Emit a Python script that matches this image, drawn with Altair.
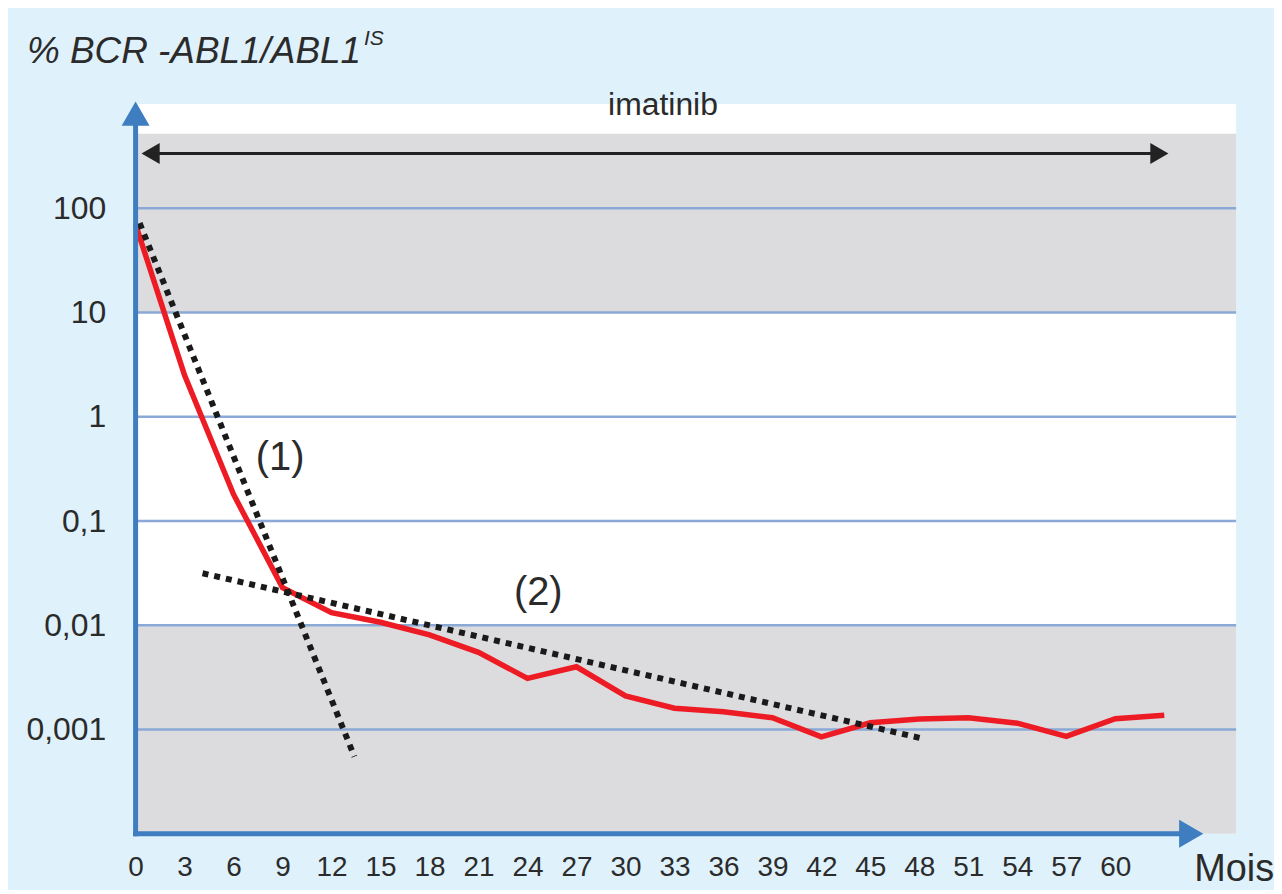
import altair as alt
import pandas as pd

# ---------------- data ----------------
months = [0, 3, 6, 9, 12, 15, 18, 21, 24, 27, 30, 33, 36, 39, 42, 45, 48, 51, 54, 57, 60, 63]
bcr_abl1 = [70, 2.5, 0.18, 0.023, 0.0132, 0.0107, 0.0081, 0.0055, 0.0031, 0.0040,
            0.0021, 0.0016, 0.00148, 0.0013, 0.00085, 0.00116, 0.00126, 0.0013,
            0.00115, 0.00086, 0.00127, 0.00137]

slope1_months = [0.25, 13.4]
slope1_values = [72, 0.00055]
slope2_months = [4.1, 48.2]
slope2_values = [0.0316, 0.00082]

x_ticks = [0, 3, 6, 9, 12, 15, 18, 21, 24, 27, 30, 33, 36, 39, 42, 45, 48, 51, 54, 57, 60]
y_ticks = [0.001, 0.01, 0.1, 1, 10, 100]

band_from = [10, 0.0001]
band_to = [520, 0.01]

treatment = ["imatinib"]
treatment_start = [0.92]
treatment_end = [62.7]
treatment_level = [336]
treatment_label_month = [32.3]
treatment_label_value = [792]

phase_labels = ["(1)", "(2)"]
phase_months = [8.85, 24.66]
phase_values = [0.309, 0.0158]

X_MIN, X_MAX = 0, 67.4
Y_MIN, Y_MAX = 0.0001, 1000
X_ARROW = 64.65
Y_ARROW = 810

# ---------------- styles ----------------
FONT = "Liberation Sans"
TXT = "#2b2b2b"
BLUE = "#3f7dc1"
GRID = "#8aa9d6"
GRAY = "#dcdcdf"
RED = "#ed1c24"
BG = "#dff1fb"

xs = alt.Scale(domain=[X_MIN, X_MAX], nice=False, zero=False)
ys = alt.Scale(type="log", domain=[Y_MIN, Y_MAX], nice=False)

x_axis = alt.Axis(values=x_ticks, title=None, domain=False, ticks=False, tickSize=0,
                  grid=False, labelFontSize=28, labelColor=TXT, labelFont=FONT,
                  labelPadding=20, labelFlush=False, labelOverlap=False)
y_axis = alt.Axis(values=y_ticks, title=None, domain=False, ticks=False, tickSize=0,
                  grid=False, labelFontSize=32, labelColor=TXT, labelFont=FONT,
                  labelPadding=30, labelOverlap=False,
                  labelExpr="replace(toString(datum.value), '.', ',')")

# ---------------- tables ----------------
bands = pd.DataFrame({"lo": band_from, "hi": band_to, "x0": [X_MIN] * 2, "x1": [X_MAX] * 2})
grid = pd.DataFrame({"v": y_ticks})
line = pd.DataFrame({"m": months, "v": bcr_abl1})
slopes = pd.DataFrame({
    "m": slope1_months + slope2_months,
    "v": slope1_values + slope2_values,
    "g": ["1", "1", "2", "2"],
})
axes_lines = pd.DataFrame({"x": [0, 0], "x2": [0, X_ARROW], "y": [Y_MIN, Y_MIN], "y2": [Y_ARROW, Y_MIN]})
axes_heads = pd.DataFrame({"x": [0, X_ARROW], "y": [Y_ARROW, Y_MIN], "s": ["triangle-up", "triangle-right"]})
treat = pd.DataFrame({"a": treatment_start, "b": treatment_end, "v": treatment_level})
treat_heads = pd.DataFrame({"x": treatment_start + treatment_end, "y": treatment_level * 2,
                            "s": ["triangle-left", "triangle-right"]})
treat_label = pd.DataFrame({"t": treatment, "x": treatment_label_month, "y": treatment_label_value})
phases = pd.DataFrame({"t": phase_labels, "x": phase_months, "y": phase_values})

# ---------------- layers ----------------
band_layer = alt.Chart(bands).mark_rect(color=GRAY).encode(
    x=alt.X("x0:Q", scale=xs, axis=x_axis), x2="x1",
    y=alt.Y("lo:Q", scale=ys, axis=y_axis), y2="hi",
)
grid_layer = alt.Chart(grid).mark_rule(color=GRID, strokeWidth=2.5).encode(
    y=alt.Y("v:Q", scale=ys, axis=None)
)
axis_line_layer = alt.Chart(axes_lines).mark_rule(color=BLUE, strokeWidth=5, strokeCap="square").encode(
    x=alt.X("x:Q", scale=xs, axis=None), x2="x2",
    y=alt.Y("y:Q", scale=ys, axis=None), y2="y2",
)
axis_head_layer = alt.Chart(axes_heads).mark_point(filled=True, size=784, color=BLUE, opacity=1, strokeWidth=0).encode(
    x=alt.X("x:Q", scale=xs, axis=None),
    y=alt.Y("y:Q", scale=ys, axis=None),
    shape=alt.Shape("s:N", scale=None, legend=None),
)
treat_layer = alt.Chart(treat).mark_rule(color="#222222", strokeWidth=3).encode(
    x=alt.X("a:Q", scale=xs, axis=None), x2="b",
    y=alt.Y("v:Q", scale=ys, axis=None),
)
treat_head_layer = alt.Chart(treat_heads).mark_point(filled=True, size=441, color="#222222", opacity=1, strokeWidth=0).encode(
    x=alt.X("x:Q", scale=xs, axis=None),
    y=alt.Y("y:Q", scale=ys, axis=None),
    shape=alt.Shape("s:N", scale=None, legend=None),
)
red_layer = alt.Chart(line).mark_line(color=RED, strokeWidth=5.5, strokeJoin="miter").encode(
    x=alt.X("m:Q", scale=xs, axis=None),
    y=alt.Y("v:Q", scale=ys, axis=None),
)
slope_layer = alt.Chart(slopes).mark_line(color="#1a1a1a", strokeWidth=6, strokeDash=[6, 6], strokeCap="butt").encode(
    x=alt.X("m:Q", scale=xs, axis=None),
    y=alt.Y("v:Q", scale=ys, axis=None),
    detail="g:N",
)
phase_layer = alt.Chart(phases).mark_text(fontSize=40, font=FONT, color=TXT, align="center", baseline="alphabetic").encode(
    x=alt.X("x:Q", scale=xs, axis=None),
    y=alt.Y("y:Q", scale=ys, axis=None),
    text="t:N",
)
treat_label_layer = alt.Chart(treat_label).mark_text(fontSize=32, font=FONT, color=TXT, align="center", baseline="alphabetic").encode(
    x=alt.X("x:Q", scale=xs, axis=None),
    y=alt.Y("y:Q", scale=ys, axis=None),
    text="t:N",
)

title_layer = alt.Chart(pd.DataFrame({"t": ["% BCR -ABL1/ABL1"]})).mark_text(
    fontSize=37, font=FONT, fontStyle="italic", color=TXT, align="left", baseline="alphabetic"
).encode(x=alt.value(-109), y=alt.value(-41.6), text="t:N")
sup_layer = alt.Chart(pd.DataFrame({"t": ["IS"]})).mark_text(
    fontSize=21, font=FONT, fontStyle="italic", color=TXT, align="left", baseline="alphabetic"
).encode(x=alt.value(229), y=alt.value(-59.6), text="t:N")
mois_layer = alt.Chart(pd.DataFrame({"t": ["Mois"]})).mark_text(
    fontSize=38, font=FONT, color=TXT, align="left", baseline="alphabetic"
).encode(x=alt.value(1062), y=alt.value(779), text="t:N")

chart = alt.layer(
    band_layer, grid_layer, treat_layer, treat_head_layer, red_layer, slope_layer,
    axis_line_layer, axis_head_layer, phase_layer, treat_label_layer,
    title_layer, sup_layer, mois_layer,
).resolve_axis(
    x="independent", y="independent"
).properties(
    width=1104, height=732,
    autosize=alt.AutoSizeParams(type="none"),
    padding={"left": 128, "top": 95, "right": 38, "bottom": 55},
).configure(
    background=BG, font=FONT,
).configure_view(
    fill="white", stroke=None,
)

chart.save("out.html", embed_options={"renderer": "svg", "actions": False})
